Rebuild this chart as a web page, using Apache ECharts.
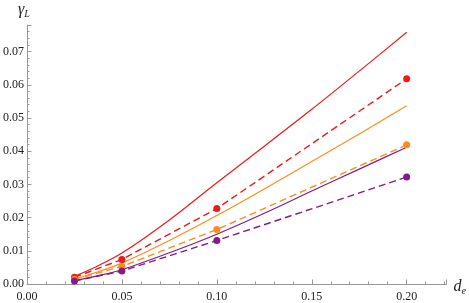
<!DOCTYPE html>
<html><head><meta charset="utf-8">
<script src="https://cdn.jsdelivr.net/npm/echarts@6/dist/echarts.min.js"></script>
<style>html,body{margin:0;padding:0;background:#fff}#c{width:469px;height:303px}</style>
</head><body><div id="c"></div>
<script>
// Simulation points (dashed lines with markers)
const xPoints = [0.025, 0.05, 0.1, 0.2];
const redPts = [0.0020, 0.0074, 0.0227, 0.0618];
const orangePts = [0.0014, 0.0053, 0.0164, 0.0419];
const purplePts = [0.0009, 0.0039, 0.0131, 0.0322];
// Theory curves (solid)
const xCurve = [0.025, 0.0375, 0.05, 0.075, 0.1, 0.125, 0.15, 0.175, 0.2];
const redCurve = [0.0023, 0.0055, 0.0093, 0.0193, 0.0305, 0.0415, 0.0526, 0.0641, 0.0758];
const orangeCurve = [0.0015, 0.0037, 0.0063, 0.0131, 0.0206, 0.0286, 0.0369, 0.0452, 0.0537];
const purpleCurve = [0.0010, 0.0025, 0.0043, 0.0094, 0.0150, 0.0213, 0.0280, 0.0346, 0.0412];

const pair = (xs, ys) => xs.map((x, i) => [x, ys[i]]);
const font = "'Liberation Serif', 'Times New Roman', serif";
const axisCommon = {
  axisLine: {lineStyle: {color: '#999', width: 1}},
  axisTick: {show: true, inside: true, length: 4.5, lineStyle: {color: '#999'}},
  minorTick: {show: true, splitNumber: 5, length: 2.5, lineStyle: {color: '#999'}},
  splitLine: {show: false},
  axisLabel: {fontFamily: font, fontSize: 12, color: '#222'}
};
function solid(name, color, ys) {
  return {name, type: 'line', data: pair(xCurve, ys), smooth: 0.3, showSymbol: false,
    lineStyle: {color, width: 1.2}, z: 2};
}
function dashed(name, color, ys) {
  return {name, type: 'line', data: pair(xPoints, ys), smooth: false, symbol: 'circle', symbolSize: 7,
    showSymbol: true, itemStyle: {color}, lineStyle: {color, width: 1.4, type: [7, 4]}, z: 3};
}
const chart = echarts.init(document.getElementById('c'), null, {renderer: 'canvas'});
chart.setOption({
  animation: false,
  grid: {left: 26, right: 22, top: 25, bottom: 18, containLabel: false},
  xAxis: Object.assign({}, axisCommon, {
    type: 'value', min: 0, max: 0.221, interval: 0.05,
    name: '{a|d}{b|e}', nameLocation: 'end', nameGap: 7,
    nameTextStyle: {rich: {
      a: {fontFamily: font, fontStyle: 'italic', fontSize: 16, color: '#222', padding: [6, 0, 0, 0]},
      b: {fontFamily: font, fontStyle: 'italic', fontSize: 10, color: '#222', padding: [14, 0, 0, 0]}
    }},
    axisLabel: Object.assign({}, axisCommon.axisLabel, {margin: 7,
      formatter: v => (Math.abs(v / 0.05 - Math.round(v / 0.05)) < 1e-6 ? v.toFixed(2) : '')})
  }),
  yAxis: Object.assign({}, axisCommon, {
    type: 'value', min: 0, max: 0.078, interval: 0.01,
    name: '{a|γ}{b|L}', nameLocation: 'end', nameGap: 6,
    nameTextStyle: {padding: [0, 6, 0, 0], rich: {
      a: {fontFamily: font, fontStyle: 'italic', fontSize: 16, color: '#222'},
      b: {fontFamily: font, fontStyle: 'italic', fontSize: 10, color: '#222', padding: [8, 0, 0, 0]}
    }},
    axisLabel: Object.assign({}, axisCommon.axisLabel, {margin: 3,
      formatter: v => (Math.abs(v / 0.01 - Math.round(v / 0.01)) < 1e-6 ? v.toFixed(2) : '')})
  }),
  series: [
    solid('red theory', '#f01818', redCurve),
    dashed('red sim', '#f01818', redPts),
    solid('orange theory', '#ff8c1a', orangeCurve),
    dashed('orange sim', '#ff8c1a', orangePts),
    solid('purple theory', '#861a8a', purpleCurve),
    dashed('purple sim', '#861a8a', purplePts)
  ]
});
</script></body></html>
